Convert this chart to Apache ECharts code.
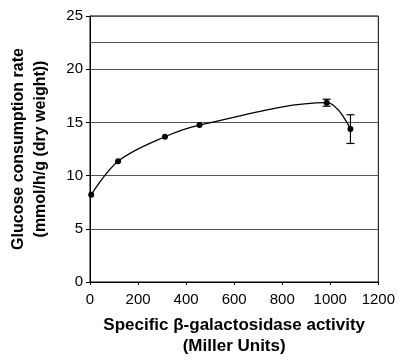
<!DOCTYPE html>
<html><head><meta charset="utf-8">
<script src="https://cdn.jsdelivr.net/npm/echarts@6/dist/echarts.min.js"></script>
<style>html,body{margin:0;padding:0;background:#fff}#c{width:398px;height:362px}</style>
</head><body><div id="c"></div>
<script>
const activity = [5, 117, 312, 456, 985, 1084];
const glucose = [8.2, 11.35, 13.65, 14.75, 16.85, 14.37];
const errors = [0, 0, 0, 0, 0.33, 1.35];
const xTicks = [0, 200, 400, 600, 800, 1000, 1200];
const yTicks = [0, 5, 10, 15, 20, 25];
const extraGrid = [22.5];

const chart = echarts.init(document.getElementById('c'));
const font = 'Arial, "Liberation Sans", sans-serif';
chart.setOption({
  animation: false,
  grid: {left: 82, right: 18, top: 16, bottom: 78, show: true, borderColor: '#000', borderWidth: 1},
  xAxis: {
    type: 'value', min: xTicks[0], max: xTicks[xTicks.length - 1], interval: xTicks[1] - xTicks[0],
    name: 'Specific β-galactosidase activity\n(Miller Units)',
    nameLocation: 'middle', nameGap: 33,
    nameTextStyle: {fontFamily: font, fontWeight: 'bold', fontSize: 17, color: '#000', lineHeight: 21},
    axisLine: {lineStyle: {color: '#000'}},
    axisTick: {show: true, length: 3, lineStyle: {color: '#000'}},
    axisLabel: {fontFamily: font, fontSize: 15, color: '#000', margin: 10, formatter: v => String(v)},
    splitLine: {show: false}
  },
  yAxis: {
    type: 'value', min: yTicks[0], max: yTicks[yTicks.length - 1], interval: yTicks[1] - yTicks[0],
    name: 'Glucose consumption rate\n(mmol/h/g (dry weight))',
    nameLocation: 'middle', nameGap: 38, nameRotate: 90,
    nameTextStyle: {fontFamily: font, fontWeight: 'bold', fontSize: 16, color: '#000', lineHeight: 22},
    axisLine: {lineStyle: {color: '#000'}},
    axisTick: {show: true, length: 4, lineStyle: {color: '#000'}},
    axisLabel: {fontFamily: font, fontSize: 15, color: '#000', margin: 7},
    splitLine: {show: true, lineStyle: {color: '#555', width: 1}}
  },
  series: [
    {
      type: 'line', data: activity.map((x, i) => [x, glucose[i]]),
      smooth: 0.35, symbol: 'circle', symbolSize: 6,
      itemStyle: {color: '#000'}, lineStyle: {color: '#000', width: 1.3},
      markLine: {silent: true, symbol: 'none', label: {show: false},
        lineStyle: {color: '#555', type: 'solid', width: 1},
        data: extraGrid.map(v => ({yAxis: v}))}
    },
    {
      type: 'custom',
      data: activity.map((x, i) => [x, glucose[i] - errors[i], glucose[i] + errors[i]]).filter((d, i) => errors[i] > 0),
      renderItem: function (params, api) {
        const x = api.value(0);
        const lo = api.coord([x, api.value(1)]);
        const hi = api.coord([x, api.value(2)]);
        const w = 4;
        const st = {stroke: '#000', lineWidth: 1.2};
        return {type: 'group', children: [
          {type: 'line', shape: {x1: lo[0], y1: lo[1], x2: hi[0], y2: hi[1]}, style: st},
          {type: 'line', shape: {x1: lo[0] - w, y1: lo[1], x2: lo[0] + w, y2: lo[1]}, style: st},
          {type: 'line', shape: {x1: hi[0] - w, y1: hi[1], x2: hi[0] + w, y2: hi[1]}, style: st}
        ]};
      },
      z: 5
    }
  ]
});
</script></body></html>
